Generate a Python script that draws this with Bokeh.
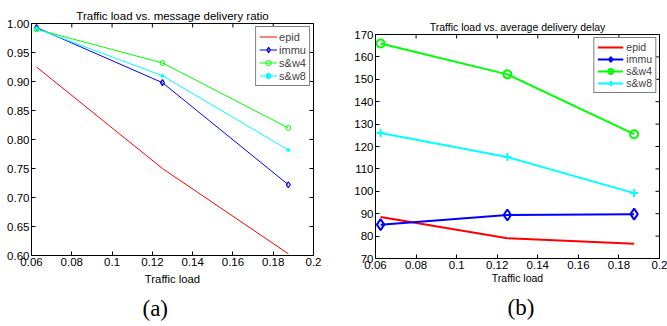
import math
from bokeh.plotting import figure
from bokeh.layouts import row
from bokeh.models import FixedTicker, Range1d, Title, PrintfTickFormatter
from bokeh.embed import file_html
from bokeh.resources import INLINE

# ---------------- data ----------------
traffic_load = [0.0625, 0.125, 0.1875]

ratio_epid = [0.925, 0.750, 0.603]
ratio_immu = [0.993, 0.898, 0.722]
ratio_sw4 = [0.990, 0.932, 0.820]
ratio_sw8 = [0.991, 0.910, 0.782]

delay_epid = [88.5, 79.0, 76.6]
delay_immu = [85.1, 89.4, 89.8]
delay_sw4 = [166.0, 152.2, 125.5]
delay_sw8 = [126.0, 115.3, 99.2]

x_ticks = [0.06, 0.08, 0.1, 0.12, 0.14, 0.16, 0.18, 0.2]
ratio_ticks = [0.60, 0.65, 0.70, 0.75, 0.80, 0.85, 0.90, 0.95, 1.00]
delay_ticks = [70, 80, 90, 100, 110, 120, 130, 140, 150, 160, 170]

series_names = ["epid", "immu", "s&w4", "s&w8"]
colors = ["#ff0000", "#0000ff", "#00ff00", "#00ffff"]

titles = ["Traffic load vs. message delivery ratio", "Traffic load vs. average delivery delay"]
x_label = "Traffic load"
panel_tags = ["(a)", "(b)"]

FONT = "Liberation Sans"


def style_axes(p, yticks, tick_size, label_size, xr, yr):
    p.xaxis.ticker = FixedTicker(ticks=x_ticks)
    p.yaxis.ticker = FixedTicker(ticks=yticks)
    for ax in p.xaxis + p.yaxis:
        ax.major_tick_in = 4
        ax.major_tick_out = 0
        ax.minor_tick_line_color = None
        ax.major_label_standoff = 2
        ax.major_label_text_font = FONT
        ax.major_label_text_font_size = tick_size
        ax.major_label_text_color = "black"
        ax.axis_line_color = "black"
        ax.major_tick_line_color = "black"
        ax.axis_label_text_font = FONT
        ax.axis_label_text_font_style = "normal"
        ax.axis_label_text_font_size = label_size
        ax.axis_label_text_color = "black"
    # box-style inner ticks on top and right edges (half of each dash is clipped by the frame)
    p.scatter(x_ticks, [yr[1]] * len(x_ticks), marker="dash", angle=math.pi / 2, size=8,
              line_color="black", line_width=1)
    p.scatter([xr[1]] * len(yticks), yticks, marker="dash", size=8,
              line_color="black", line_width=1)


def style_legend(lg, glyph_w, row_h, font_size, standoff):
    lg.location = "top_right"
    lg.margin = 3
    lg.padding = 3
    lg.spacing = 0
    lg.glyph_width = glyph_w
    lg.glyph_height = row_h
    lg.label_height = row_h
    lg.label_standoff = standoff
    lg.label_text_font = FONT
    lg.label_text_font_size = font_size
    lg.border_line_color = "black"
    lg.border_line_width = 1
    lg.background_fill_alpha = 1


def add_texts(p, title, title_size, title_standoff, tag, tag_offset, tag_standoff):
    p.title = Title(text=title, align="center", text_font=FONT, text_font_size=title_size,
                    text_font_style="normal", text_color="black", standoff=title_standoff)
    p.add_layout(Title(text=tag, align="left", offset=tag_offset, text_font="Liberation Serif",
                       text_font_size="23px", text_font_style="normal", text_color="black",
                       standoff=tag_standoff), "below")


def unalign(p):
    try:
        p.frame_align = False
    except Exception:
        pass


# ---------------- figure (a) ----------------
xra, yra = (0.06, 0.2), (0.60, 1.00)
pa = figure(width=337, height=326, output_backend="svg", toolbar_location=None,
            x_range=Range1d(*xra), y_range=Range1d(*yra),
            min_border_left=31, min_border_right=24, min_border_top=23, min_border_bottom=70)
unalign(pa)
pa.grid.visible = False
pa.outline_line_color = "black"
pa.xaxis.axis_label = x_label
style_axes(pa, ratio_ticks, "11.5px", "11.3px", xra, yra)
pa.yaxis.formatter = PrintfTickFormatter(format="%.2f")
pa.xaxis[0].axis_label_standoff = 4

pa.line(traffic_load, ratio_epid, color=colors[0], line_width=1, legend_label=series_names[0])
pa.line(traffic_load, ratio_immu, color=colors[1], line_width=1, legend_label=series_names[1])
pa.scatter(traffic_load, ratio_immu, marker="diamond", size=6, line_color=colors[1],
           fill_color=None, line_width=1.2, legend_label=series_names[1])
pa.line(traffic_load, ratio_sw4, color=colors[2], line_width=1, legend_label=series_names[2])
pa.scatter(traffic_load, ratio_sw4, marker="circle", size=5, line_color=colors[2],
           fill_color=None, line_width=1, legend_label=series_names[2])
pa.line(traffic_load, ratio_sw8, color=colors[3], line_width=1, legend_label=series_names[3])
pa.scatter(traffic_load, ratio_sw8, marker="circle", size=3, line_color=colors[3],
           fill_color=colors[3], legend_label=series_names[3])
style_legend(pa.legend[0], 18, 13, "11px", 2)
add_texts(pa, titles[0], "11.5px", 4, panel_tags[0], 111, 12)

# ---------------- figure (b) ----------------
xrb, yrb = (0.06, 0.2), (70, 170)
pb = figure(width=330, height=326, output_backend="svg", toolbar_location=None,
            x_range=Range1d(*xrb), y_range=Range1d(*yrb),
            min_border_left=38, min_border_right=8, min_border_top=34, min_border_bottom=68)
unalign(pb)
pb.grid.visible = False
pb.outline_line_color = "black"
pb.xaxis.axis_label = x_label
style_axes(pb, delay_ticks, "11.5px", "10.5px", xrb, yrb)
pb.xaxis[0].axis_label_standoff = 0

pb.line(traffic_load, delay_epid, color=colors[0], line_width=2, legend_label=series_names[0])
pb.line(traffic_load, delay_immu, color=colors[1], line_width=2, legend_label=series_names[1])
pb.scatter(traffic_load, delay_immu, marker="diamond", size=11, line_color=colors[1],
           fill_color=None, line_width=2, legend_label=series_names[1])
pb.line(traffic_load, delay_sw4, color=colors[2], line_width=2, legend_label=series_names[2])
pb.scatter(traffic_load, delay_sw4, marker="circle", size=8, line_color=colors[2],
           fill_color=None, line_width=2, legend_label=series_names[2])
pb.line(traffic_load, delay_sw8, color=colors[3], line_width=2, legend_label=series_names[3])
pb.scatter(traffic_load, delay_sw8, marker="cross", size=8, line_color=colors[3],
           line_width=2, legend_label=series_names[3])
style_legend(pb.legend[0], 26, 12, "10.5px", 3)
add_texts(pb, titles[1], "10.5px", 4, panel_tags[1], 132, 13)

layout = row(pa, pb, spacing=0)
open("out.html", "w").write(file_html(layout, INLINE))
